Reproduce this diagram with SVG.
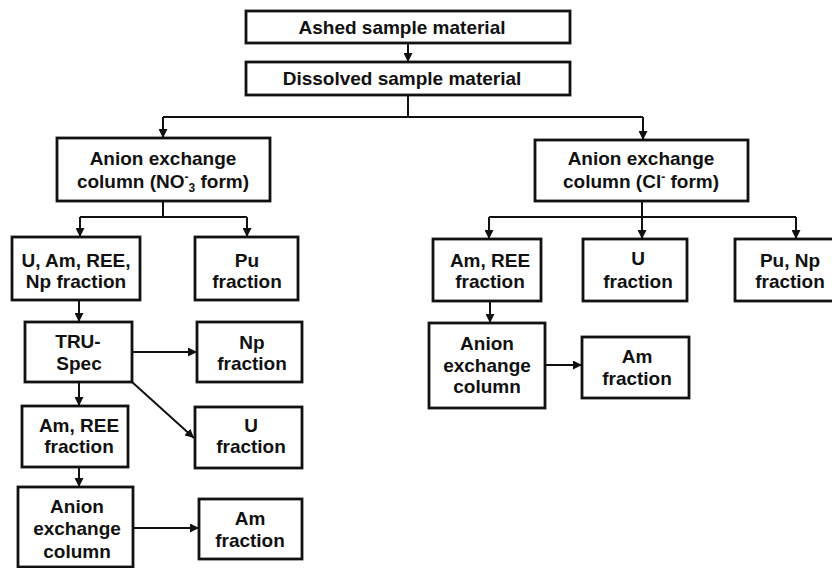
<svg xmlns="http://www.w3.org/2000/svg" width="832" height="568" viewBox="0 0 832 568">
<defs>
<marker id="ah" markerUnits="userSpaceOnUse" markerWidth="10" markerHeight="9" refX="9" refY="4.5" orient="auto">
<path d="M0,0 L9,4.5 L0,9 z" fill="#111"/>
</marker>
<style>
.box{fill:#fff;stroke:#111;stroke-width:2.8}
.t{font-family:"Liberation Sans",Arial,sans-serif;font-weight:bold;font-size:19px;fill:#111;text-anchor:middle}
.c{fill:none;stroke:#111;stroke-width:2}
.a{marker-end:url(#ah)}
</style>
</defs>
<rect width="832" height="568" fill="#fff"/>
<g id="connectors">
<path class="c a" d="M408,43 V62"/>
<path class="c" d="M408,95 V117"/>
<path class="c a" d="M163,117 H643 M163,117 V138"/>
<path class="c a" d="M643,117 V140"/>
<path class="c" d="M163,201 V217"/>
<path class="c a" d="M80,217 H247 M80,217 V237"/>
<path class="c a" d="M247,217 V237"/>
<path class="c a" d="M79,300 V322"/>
<path class="c a" d="M132,352 H197"/>
<path class="c a" d="M132,382 L194,438"/>
<path class="c a" d="M79,382 V406"/>
<path class="c a" d="M79,467 V487"/>
<path class="c a" d="M133,528 H199"/>
<path class="c" d="M642,201 V217"/>
<path class="c a" d="M489,217 H796 M489,217 V239"/>
<path class="c a" d="M642,217 V239"/>
<path class="c a" d="M796,217 V239"/>
<path class="c a" d="M490,301 V323"/>
<path class="c a" d="M545,365 H582"/>
</g>
<g id="ashed"><rect class="box" x="246" y="11" width="324" height="32"/><text class="t" x="402" y="34">Ashed sample material</text></g>
<g id="dissolved"><rect class="box" x="246" y="62" width="324" height="33"/><text class="t" x="402" y="85">Dissolved sample material</text></g>
<g id="anion-no3"><rect class="box" x="57" y="138" width="213" height="63"/><text class="t" x="163" y="165">Anion exchange</text><text class="t" x="163" y="188">column (NO<tspan font-size="12" dy="-7">-</tspan><tspan font-size="12" dy="11">3</tspan><tspan dy="-4"> form)</tspan></text></g>
<g id="anion-cl"><rect class="box" x="535" y="140" width="213" height="61"/><text class="t" x="641" y="165">Anion exchange</text><text class="t" x="641" y="188">column (Cl<tspan font-size="12" dy="-7">-</tspan><tspan dy="7"> form)</tspan></text></g>
<g id="uamree"><rect class="box" x="12" y="237" width="128" height="63"/><text class="t" x="76" y="267">U, Am, REE,</text><text class="t" x="76" y="288">Np fraction</text></g>
<g id="pu"><rect class="box" x="195" y="237" width="103" height="63"/><text class="t" x="247" y="267">Pu</text><text class="t" x="247" y="288">fraction</text></g>
<g id="truspec"><rect class="box" x="25" y="322" width="107" height="60"/><text class="t" x="78" y="348">TRU-</text><text class="t" x="79" y="370">Spec</text></g>
<g id="np"><rect class="box" x="197" y="322" width="105" height="60"/><text class="t" x="252" y="349">Np</text><text class="t" x="252" y="370">fraction</text></g>
<g id="amree-l"><rect class="box" x="22" y="406" width="106" height="61"/><text class="t" x="79" y="432">Am, REE</text><text class="t" x="79" y="453">fraction</text></g>
<g id="u-l"><rect class="box" x="195" y="407" width="107" height="61"/><text class="t" x="251" y="432">U</text><text class="t" x="251" y="453">fraction</text></g>
<g id="anion-l"><rect class="box" x="18" y="487" width="115" height="80"/><text class="t" x="77" y="513">Anion</text><text class="t" x="77" y="535">exchange</text><text class="t" x="77" y="558">column</text></g>
<g id="am-l"><rect class="box" x="199" y="499" width="103" height="60"/><text class="t" x="250" y="525">Am</text><text class="t" x="250" y="547">fraction</text></g>
<g id="amree-r"><rect class="box" x="433" y="239" width="108" height="62"/><text class="t" x="490" y="267">Am, REE</text><text class="t" x="490" y="288">fraction</text></g>
<g id="u-r"><rect class="box" x="583" y="239" width="104" height="62"/><text class="t" x="638" y="265">U</text><text class="t" x="638" y="288">fraction</text></g>
<g id="punp"><rect class="box" x="735" y="239" width="120" height="62"/><text class="t" x="790" y="267">Pu, Np</text><text class="t" x="790" y="288">fraction</text></g>
<g id="anion-r"><rect class="box" x="429" y="323" width="116" height="85"/><text class="t" x="487" y="350">Anion</text><text class="t" x="487" y="372">exchange</text><text class="t" x="487" y="393">column</text></g>
<g id="am-r"><rect class="box" x="582" y="337" width="107" height="61"/><text class="t" x="637" y="363">Am</text><text class="t" x="637" y="385">fraction</text></g>
</svg>
